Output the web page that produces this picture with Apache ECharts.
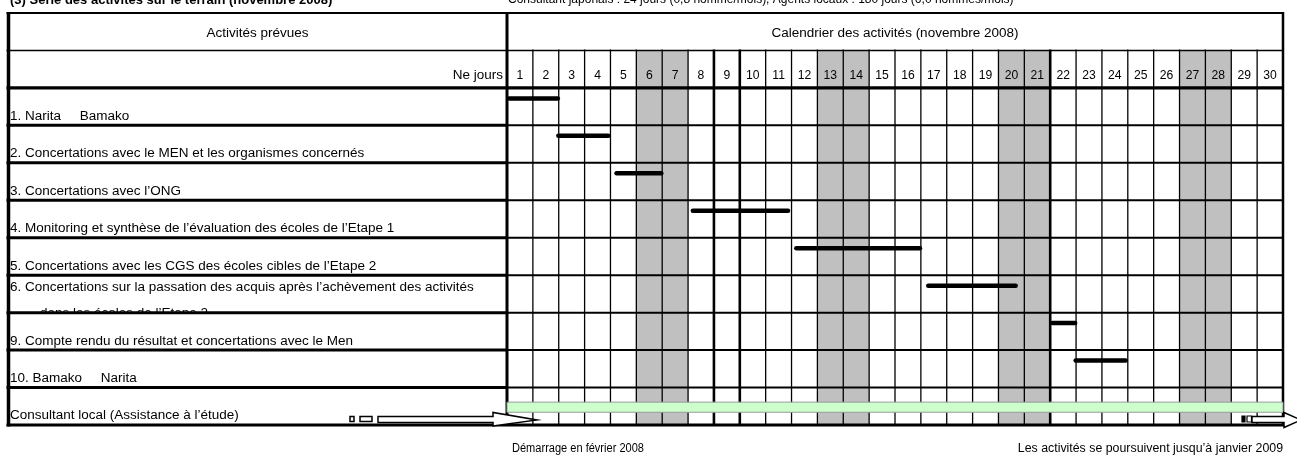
<!DOCTYPE html>
<html><head><meta charset="utf-8">
<script src="https://cdn.jsdelivr.net/npm/echarts@6/dist/echarts.min.js"></script>
<style>html,body{margin:0;padding:0;background:#fff}#c{width:1297px;height:459px}</style>
</head><body><div id="c"></div>
<script>
// ---------- data ----------
const titleLeft = '(3) Série des activités sur le terrain (novembre 2008)';
const titleRight = 'Consultant japonais : 24 jours (0,8 homme/mois), Agents locaux : 180 jours (6,0 hommes/mois)';
const headerActivities = 'Activités prévues';
const headerCalendar = 'Calendrier des activités (novembre 2008)';
const headerDays = 'Ne jours';
const dayLabels = ['1','2','3','4','5','6','7','8','9','10','11','12','13','14','15',
  '16','17','18','19','20','21','22','23','24','25','26','27','28','29','30'];
const weekendDays = [6, 7, 13, 14, 20, 21, 27, 28];
const activityLabels = [
  '1. Narita     Bamako',
  '2. Concertations avec le MEN et les organismes concernés',
  '3. Concertations avec l’ONG',
  '4. Monitoring et synthèse de l’évaluation des écoles de l’Etape 1',
  '5. Concertations avec les CGS des écoles cibles de l’Etape 2',
  '6. Concertations sur la passation des acquis après l’achèvement des activités\n     – dans les écoles de l’Etape 2',
  '9. Compte rendu du résultat et concertations avec le Men',
  '10. Bamako     Narita'
];
const activityStart = [0.0, 1.9, 4.15, 7.1, 11.1, 16.2, 21.0, 21.9];
const activityEnd   = [2.05, 4.0, 6.05, 10.95, 16.05, 19.75, 22.05, 24.0];
const consultantLabel = 'Consultant local (Assistance à l’étude)';
const consultantStart = 0;
const consultantEnd = 30;
const noteStart = 'Démarrage en février 2008';
const noteEnd = 'Les activités se poursuivent jusqu’à janvier 2009';

// ---------- layout helpers ----------
const FAMILY = "'Liberation Sans',Arial,sans-serif";
const FS = 12.5;
const SX = 1.08;
const nRows = 2 + activityLabels.length + 1; // 11
const firstAct = 2;
const consultRow = firstAct + activityLabels.length;
const nDays = dayLabels.length;

function txt(text, x, y, align, opts) {
  opts = opts || {};
  return {type: 'text', x: x, y: y, scaleX: opts.sx || SX,
    style: {text: text, x: 0, y: 0, align: align, verticalAlign: opts.va || 'middle',
      font: (opts.weight ? opts.weight + ' ' : '') + (opts.size || FS) + 'px ' + FAMILY, fill: '#000'}};
}

// label column rows
const labelRows = [];
labelRows.push([0, headerActivities, 'center']);
labelRows.push([1, headerDays, 'right']);
activityLabels.forEach((t, i) => labelRows.push([firstAct + i, t, 'left']));
labelRows.push([consultRow, consultantLabel, 'left']);

// line definitions (structure)
const dayVLines = [];
for (let k = 0; k <= nDays; k++) {
  let w = 1.3;
  if (k === 0) w = 3;
  else if (k === nDays) w = 2.5;
  else if (k === 8 || k === 9 || k === 21) w = 2.6;
  dayVLines.push([k, (k === 0 || k === nDays) ? 0 : 1, nRows, w]);
}
const hLines = [];
for (let r = 0; r <= nRows; r++) {
  let wl = 3, wd = 2;
  if (r === 0) { wl = 2; wd = 2; }
  else if (r === 1) { wl = 1.5; wd = 1.5; }
  else if (r === 2 || r === nRows) { wl = 3.2; wd = 3.2; }
  hLines.push([r, wl, wd]);
}

const chart = echarts.init(document.getElementById('c'), null, {renderer: 'canvas'});

const option = {
  animation: false,
  backgroundColor: '#fff',
  grid: [
    {left: 8, top: 13, width: 499, height: 412},
    {left: 507, top: 13, width: 776, height: 412}
  ],
  xAxis: [
    {gridIndex: 0, type: 'value', min: 0, max: 1, show: false},
    {gridIndex: 1, type: 'value', min: 0, max: nDays, show: false}
  ],
  yAxis: [
    {gridIndex: 0, type: 'value', min: 0, max: nRows, inverse: true, show: false},
    {gridIndex: 1, type: 'value', min: 0, max: nRows, inverse: true, show: false}
  ],
  graphic: [
    Object.assign(txt(titleLeft, 10, 0, 'left', {weight: 'bold', size: 13, sx: 1.0}), {z: 30}),
    Object.assign(txt(titleRight, 508, 0, 'left', {size: 12, sx: 1.0}), {z: 30}),
    Object.assign(txt(noteStart, 512, 449, 'left', {size: 12, sx: 0.92}), {z: 30}),
    Object.assign(txt(noteEnd, 1283, 449, 'right', {size: 12, sx: 1.03}), {z: 30}),
    // left arrow (activity started before the period)
    {type: 'rect', shape: {x: 350, y: 416.5, width: 4, height: 5}, style: {fill: '#fff', stroke: '#000', lineWidth: 1.5}, z: 20},
    {type: 'rect', shape: {x: 360, y: 416.5, width: 12, height: 5}, style: {fill: '#fff', stroke: '#000', lineWidth: 1.5}, z: 20},
    {type: 'polygon', shape: {points: [[378,416.5],[493,416.5],[493,412.5],[537,420],[493,426],[493,422.5],[378,422.5]]},
      style: {fill: '#fff', stroke: '#000', lineWidth: 1.5}, z: 20},
    // right arrow (activity continues after the period)
    {type: 'rect', shape: {x: 1242, y: 416, width: 3, height: 6}, style: {fill: '#000', stroke: '#000', lineWidth: 1.2}, z: 20},
    {type: 'rect', shape: {x: 1247, y: 416, width: 4.5, height: 6}, style: {fill: '#fff', stroke: '#000', lineWidth: 1.2}, z: 20},
    {type: 'polygon', shape: {points: [[1252,416.5],[1284,416.5],[1284,412.5],[1301,420],[1284,427.5],[1284,422.5],[1252,422.5]]},
      style: {fill: '#fff', stroke: '#000', lineWidth: 1.5}, z: 20}
  ],
  series: [
    // label column: rows with white background + text
    {
      type: 'custom', xAxisIndex: 0, yAxisIndex: 0, z: 2, silent: true, clip: false,
      data: labelRows,
      renderItem: (params, api) => {
        const r = api.value(0);
        const item = labelRows[params.dataIndex];
        const p0 = api.coord([0, r]);
        const p1 = api.coord([1, r + 1]);
        const h = p1[1] - p0[1];
        const children = [
          {type: 'rect', shape: {x: p0[0], y: p0[1], width: p1[0] - p0[0], height: h}, style: {fill: '#fff'}}
        ];
        if (item[2] === 'center') children.push(txt(item[1], (p0[0] + p1[0]) / 2, p0[1] + h * 0.55, 'center'));
        else if (item[2] === 'right') children.push(txt(item[1], p1[0] - 4, p0[1] + h * 0.66, 'right'));
        else if (item[1].indexOf('\n') >= 0) {
          item[1].split('\n').forEach((ln, j) => children.push(txt(ln, p0[0] + 2, p0[1] + h * 0.32 + j * 26, 'left')));
        } else children.push(txt(item[1], p0[0] + 2, p0[1] + h * 0.76, 'left'));
        return {type: 'group', children: children};
      }
    },
    // calendar header cell
    {
      type: 'custom', xAxisIndex: 1, yAxisIndex: 1, z: 2, silent: true, clip: false,
      data: [[0, nDays, 0]],
      renderItem: (params, api) => {
        const p0 = api.coord([api.value(0), api.value(2)]);
        const p1 = api.coord([api.value(1), api.value(2) + 1]);
        return txt(headerCalendar, (p0[0] + p1[0]) / 2, p0[1] + (p1[1] - p0[1]) * 0.55, 'center');
      }
    },
    // weekend shading
    {
      type: 'custom', xAxisIndex: 1, yAxisIndex: 1, z: 2, silent: true,
      data: weekendDays.map(d => [d]),
      renderItem: (params, api) => {
        const d = api.value(0);
        const p0 = api.coord([d - 1, 1]);
        const p1 = api.coord([d, nRows]);
        return {type: 'rect', shape: {x: p0[0], y: p0[1], width: p1[0] - p0[0], height: p1[1] - p0[1]}, style: {fill: '#c0c0c0'}};
      }
    },
    // day numbers
    {
      type: 'custom', xAxisIndex: 1, yAxisIndex: 1, z: 3, silent: true,
      data: dayLabels.map((l, i) => [i + 0.5, 1]),
      renderItem: (params, api) => {
        const p = api.coord([api.value(0), api.value(1) + 0.66]);
        return txt(dayLabels[params.dataIndex], p[0], p[1], 'center', {size: 13.5, sx: 0.9});
      }
    },
    // consultant local band
    {
      type: 'custom', xAxisIndex: 1, yAxisIndex: 1, z: 6, silent: true, clip: false,
      data: [[consultantStart, consultantEnd, consultRow]],
      renderItem: (params, api) => {
        const r = api.value(2);
        const p0 = api.coord([api.value(0), r + 0.39]);
        const p1 = api.coord([api.value(1), r + 0.66]);
        return {type: 'rect', shape: {x: p0[0], y: p0[1], width: p1[0] - p0[0], height: p1[1] - p0[1]},
          style: {fill: '#ccffcc', stroke: '#9a9a9a', lineWidth: 1}};
      }
    },
    // table lines: day area
    {
      type: 'custom', xAxisIndex: 1, yAxisIndex: 1, z: 5, silent: true, clip: false,
      data: dayVLines,
      renderItem: (params, api) => {
        const k = api.value(0);
        const p0 = api.coord([k, api.value(1)]);
        const p1 = api.coord([k, api.value(2)]);
        return {type: 'line', shape: {x1: p0[0], y1: p0[1] - 1, x2: p1[0], y2: p1[1] + 1}, style: {stroke: '#000', lineWidth: api.value(3)}};
      }
    },
    {
      type: 'custom', xAxisIndex: 1, yAxisIndex: 1, z: 5, silent: true, clip: false,
      data: hLines,
      renderItem: (params, api) => {
        const r = api.value(0);
        const p0 = api.coord([0, r]);
        const p1 = api.coord([nDays, r]);
        return {type: 'line', shape: {x1: p0[0], y1: p0[1], x2: p1[0] + 1, y2: p1[1]}, style: {stroke: '#000', lineWidth: api.value(2)}};
      }
    },
    // table lines: label column
    {
      type: 'custom', xAxisIndex: 0, yAxisIndex: 0, z: 5, silent: true, clip: false,
      data: hLines,
      renderItem: (params, api) => {
        const r = api.value(0);
        const p0 = api.coord([0, r]);
        const p1 = api.coord([1, r]);
        return {type: 'line', shape: {x1: p0[0] - 1.5, y1: p0[1], x2: p1[0], y2: p1[1]}, style: {stroke: '#000', lineWidth: api.value(1)}};
      }
    },
    {
      type: 'custom', xAxisIndex: 0, yAxisIndex: 0, z: 5, silent: true, clip: false,
      data: [[0, 0, nRows, 3.5]],
      renderItem: (params, api) => {
        const p0 = api.coord([api.value(0), api.value(1)]);
        const p1 = api.coord([api.value(0), api.value(2)]);
        return {type: 'line', shape: {x1: p0[0] + 0.5, y1: p0[1] - 1, x2: p1[0] + 0.5, y2: p1[1] + 1.5}, style: {stroke: '#000', lineWidth: api.value(3)}};
      }
    },
    // activity bars
    {
      type: 'custom', xAxisIndex: 1, yAxisIndex: 1, z: 7, silent: true, clip: false,
      data: activityStart.map((s, i) => [s, activityEnd[i], firstAct + i]),
      renderItem: (params, api) => {
        const r = api.value(2);
        const p0 = api.coord([api.value(0), r + 0.28]);
        const p1 = api.coord([api.value(1), r + 0.28]);
        const cap = 2.2;
        return {type: 'line', shape: {x1: p0[0] + cap, y1: p0[1], x2: p1[0] - cap, y2: p1[1]},
          style: {stroke: '#000', lineWidth: 4.5, lineCap: 'round'}};
      }
    }
  ]
};
chart.setOption(option);
</script>
</body></html>
